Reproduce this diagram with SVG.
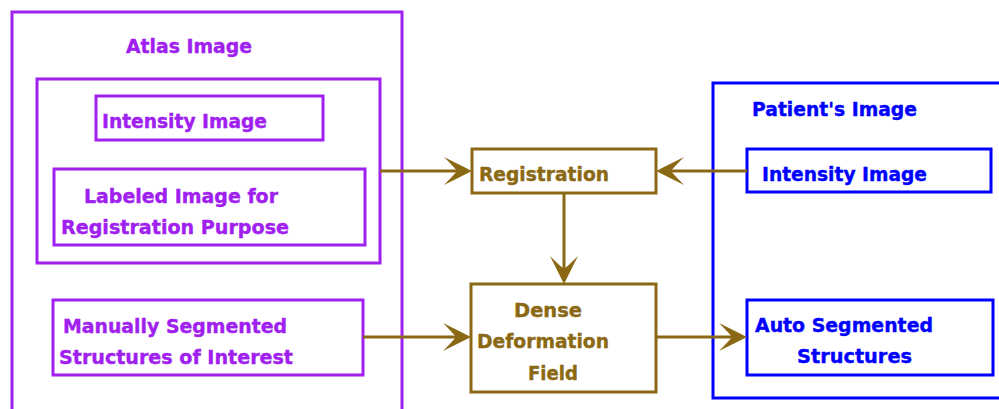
<svg xmlns="http://www.w3.org/2000/svg" width="999" height="409" viewBox="0 0 999 409">
  <style>
    .atlas { fill: none; stroke: #A020F0; stroke-width: 3; }
    .patient { fill: none; stroke: #0000FF; stroke-width: 3; }
    .proc { fill: #FFFFFF; stroke: #8B6914; stroke-width: 3; }
    .conn { stroke: #8B6914; stroke-width: 3; fill: none; }
    text { font-family: "DejaVu Sans", "Liberation Sans", sans-serif; font-weight: bold; font-size: 19.5px; stroke-width: 0.4; }
    .tp { fill: #A020F0; stroke: #A020F0; }
    .tb { fill: #0000FF; stroke: #0000FF; }
    .tg { fill: #8B6914; stroke: #8B6914; }
  </style>
  <defs>
    <!-- barbed arrowhead; tip sits 10px beyond the end of the line -->
    <marker id="head" markerUnits="userSpaceOnUse" viewBox="-30 -16 32 32" markerWidth="32" markerHeight="32" refX="-10" refY="0" orient="auto">
      <path d="M0,0 L-28,-14 Q-19,-5 -15,0 Q-19,5 -28,14 Z" fill="#8B6914"/>
    </marker>
  </defs>
  <rect width="999" height="409" fill="#FFFFFF"/>

  <g id="atlas">
    <path class="atlas" d="M12,412 V12 H402 V412"/>
    <text class="tp" x="126" y="53" textLength="126" lengthAdjust="spacingAndGlyphs">Atlas Image</text>
  </g>
  <g id="atlas-group">
    <rect class="atlas" x="37" y="79" width="343" height="184"/>
  </g>
  <g id="atlas-intensity">
    <rect class="atlas" x="96" y="96" width="227" height="44"/>
    <text class="tp" x="102" y="128" textLength="165" lengthAdjust="spacingAndGlyphs">Intensity Image</text>
  </g>
  <g id="atlas-labeled">
    <rect class="atlas" x="54" y="169" width="311" height="76"/>
    <text class="tp" x="84" y="203" textLength="194" lengthAdjust="spacingAndGlyphs">Labeled Image for</text>
    <text class="tp" x="61" y="234" textLength="228" lengthAdjust="spacingAndGlyphs">Registration Purpose</text>
  </g>
  <g id="atlas-manual">
    <rect class="atlas" x="53" y="300" width="310" height="75"/>
    <text class="tp" x="63" y="333" textLength="224" lengthAdjust="spacingAndGlyphs">Manually Segmented</text>
    <text class="tp" x="59" y="364" textLength="234" lengthAdjust="spacingAndGlyphs">Structures of Interest</text>
  </g>

  <g id="patient">
    <path class="patient" d="M1002,83 H713 V398 H1002"/>
    <text class="tb" x="752" y="116" textLength="165" lengthAdjust="spacingAndGlyphs">Patient's Image</text>
  </g>
  <g id="patient-intensity">
    <rect class="patient" x="747" y="149" width="244" height="43"/>
    <text class="tb" x="762" y="181" textLength="165" lengthAdjust="spacingAndGlyphs">Intensity Image</text>
  </g>
  <g id="patient-auto">
    <rect class="patient" x="747" y="300" width="246" height="75"/>
    <text class="tb" x="755" y="332" textLength="178" lengthAdjust="spacingAndGlyphs">Auto Segmented</text>
    <text class="tb" x="797" y="363" textLength="115" lengthAdjust="spacingAndGlyphs">Structures</text>
  </g>

  <g id="registration">
    <rect class="proc" x="472" y="149" width="184" height="44"/>
    <text class="tg" x="479" y="181" textLength="130" lengthAdjust="spacingAndGlyphs">Registration</text>
  </g>
  <g id="deformation">
    <rect class="proc" x="471" y="284" width="185" height="108"/>
    <text class="tg" x="514" y="317" textLength="68" lengthAdjust="spacingAndGlyphs">Dense</text>
    <text class="tg" x="477" y="348" textLength="132" lengthAdjust="spacingAndGlyphs">Deformation</text>
    <text class="tg" x="528" y="380" textLength="50" lengthAdjust="spacingAndGlyphs">Field</text>
  </g>

  <g id="connectors">
    <line class="conn" x1="380" y1="171" x2="462" y2="171" marker-end="url(#head)"/>
    <line class="conn" x1="747" y1="171" x2="666" y2="171" marker-end="url(#head)"/>
    <line class="conn" x1="564" y1="193" x2="564" y2="274" marker-end="url(#head)"/>
    <line class="conn" x1="363" y1="337" x2="461" y2="337" marker-end="url(#head)"/>
    <line class="conn" x1="656" y1="337" x2="737" y2="337" marker-end="url(#head)"/>
  </g>
</svg>
